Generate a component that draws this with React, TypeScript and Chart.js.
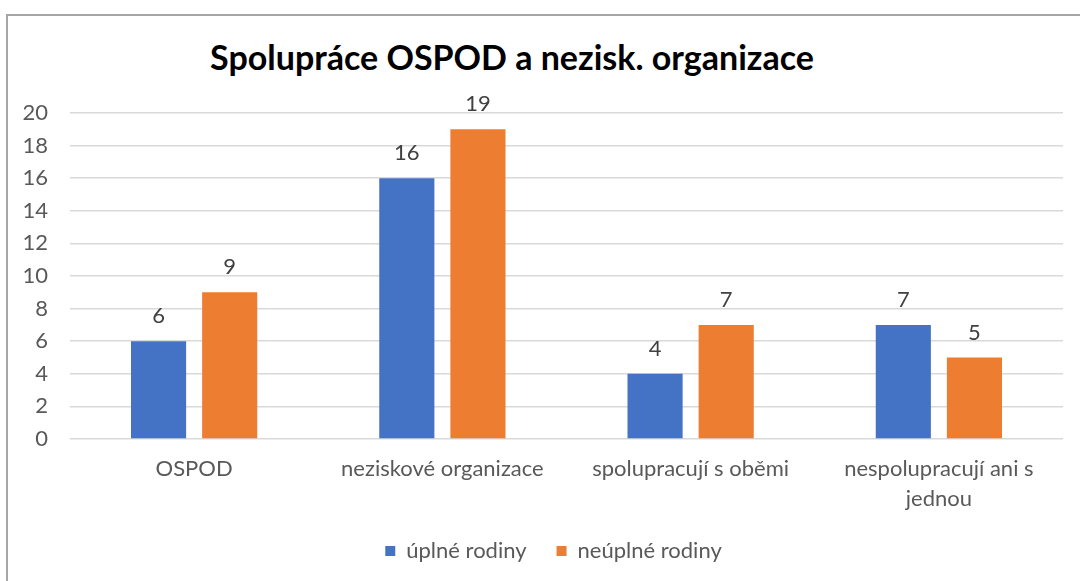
import React, { useEffect, useRef } from "react";
import { Chart, registerables } from "chart.js";

Chart.register(...registerables);

const titleText = "Spolupráce OSPOD a nezisk. organizace";
const categories: (string | string[])[] = [
  "OSPOD",
  "neziskové organizace",
  "spolupracují s oběmi",
  ["nespolupracují ani s", "jednou"],
];
const seriesNames = ["úplné rodiny", "neúplné rodiny"];
const fullFamilies = [6, 16, 4, 7];
const incompleteFamilies = [9, 19, 7, 5];
const yMin = 0;
const yMax = 20;
const yStep = 2;

const FONT = "Lato, 'Open Sans', sans-serif";

const dataLabels = {
  id: "dataLabels",
  afterDatasetsDraw(chart: any) {
    const ctx = chart.ctx;
    ctx.save();
    ctx.font = `22px ${FONT}`;
    ctx.fillStyle = "#404040";
    ctx.textAlign = "center";
    ctx.textBaseline = "middle";
    chart.data.datasets.forEach((ds: any, i: number) => {
      const meta = chart.getDatasetMeta(i);
      meta.data.forEach((el: any, j: number) => {
        ctx.fillText(String(ds.data[j]), el.x, el.y - 25);
      });
    });
    ctx.restore();
  },
};

// centre the legend on the plot-ish region like the original
const legendShift = {
  id: "legendShift",
  afterLayout(chart: any) {
    const lg = chart.legend;
    if (lg) {
      lg.left += 18;
      lg.right += 18;
    }
  },
};

export default function App() {
  const ref = useRef<HTMLCanvasElement>(null);
  useEffect(() => {
    document.body.style.margin = "0";
    const chart = new Chart(ref.current!, {
      type: "bar",
      data: {
        labels: categories,
        datasets: [
          {
            label: seriesNames[0],
            data: fullFamilies,
            backgroundColor: "#4472C4",
            categoryPercentage: 0.573,
            barPercentage: 0.775,
          },
          {
            label: seriesNames[1],
            data: incompleteFamilies,
            backgroundColor: "#ED7D31",
            categoryPercentage: 0.573,
            barPercentage: 0.775,
          },
        ],
      },
      options: {
        animation: false,
        responsive: false,
        maintainAspectRatio: false,
        layout: { padding: { top: 97, left: 0, right: 17, bottom: 9 } },
        plugins: {
          title: { display: false },
          tooltip: { enabled: false },
          legend: {
            position: "bottom",
            labels: {
              boxWidth: 10,
              boxHeight: 10,
              padding: 30,
              color: "#595959",
              font: { family: FONT, size: 22 },
            },
          },
        },
        scales: {
          x: {
            grid: { display: false, drawTicks: false },
            border: { display: false },
            afterFit: (s: any) => {
              s.height = 71;
            },
            ticks: {
              color: "#595959",
              font: { family: FONT, size: 22, lineHeight: 1.35 },
              padding: 15,
              maxRotation: 0,
              autoSkip: false,
            },
          },
          y: {
            min: yMin,
            max: yMax,
            grid: { color: "#d9d9d9", lineWidth: 1.5, drawTicks: false },
            border: { display: false },
            afterFit: (s: any) => {
              s.width = 62;
            },
            ticks: {
              stepSize: yStep,
              color: "#595959",
              font: { family: FONT, size: 22 },
              padding: 22,
            },
          },
        },
      },
      plugins: [dataLabels, legendShift],
    });
    return () => chart.destroy();
  }, []);

  return (
    <div style={{ position: "relative", width: 1080, height: 581, overflow: "hidden", background: "#fff" }}>
      <div
        style={{
          position: "absolute",
          left: 6,
          top: 14,
          width: 1200,
          height: 700,
          borderLeft: "2px solid #a6a6a6",
          borderTop: "2px solid #a6a6a6",
        }}
      />
      <div
        style={{
          position: "absolute",
          left: 162,
          width: 700,
          top: 36,
          textAlign: "center",
          fontFamily: FONT,
          fontWeight: 700,
          fontSize: 34,
          color: "#000",
          lineHeight: "42px",
          whiteSpace: "nowrap",
        }}
      >
        {titleText}
      </div>
      <canvas
        ref={ref}
        width={1072}
        height={565}
        style={{ position: "absolute", left: 8, top: 16, width: 1072, height: 565 }}
      />
    </div>
  );
}
